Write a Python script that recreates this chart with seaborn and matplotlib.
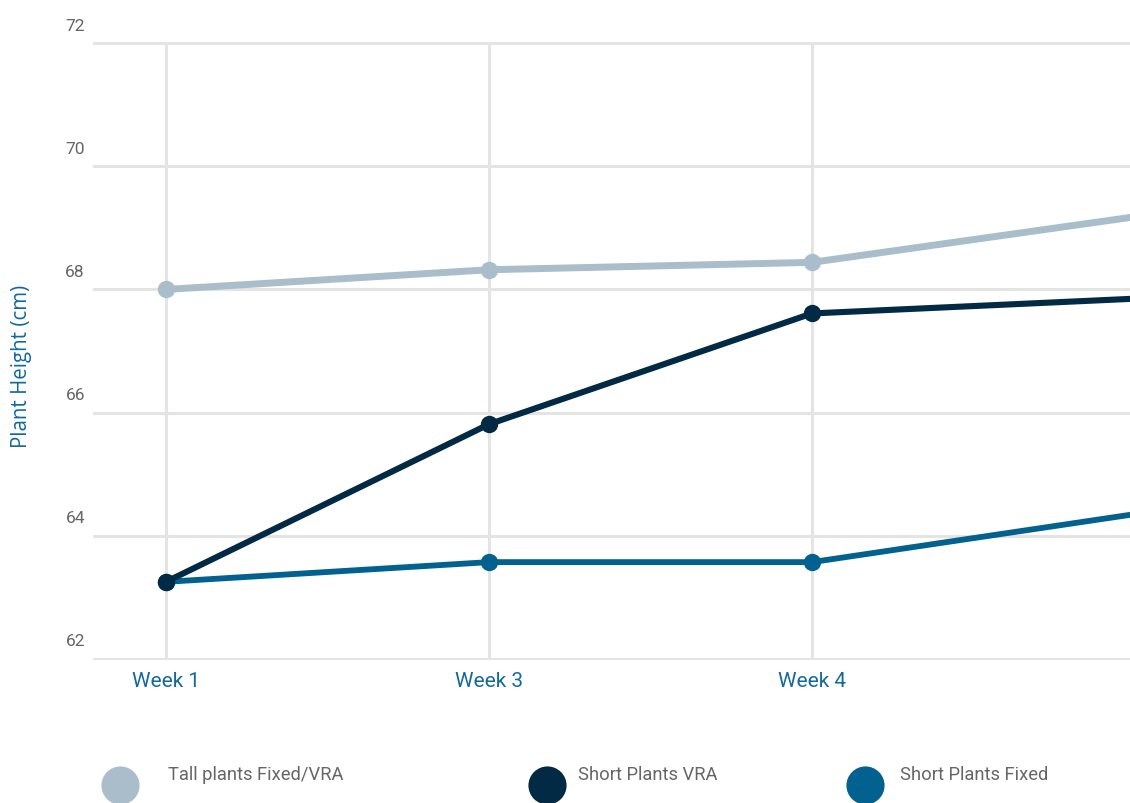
import numpy as np
import pandas as pd
import matplotlib
matplotlib.use("Agg")
import matplotlib.pyplot as plt
import matplotlib.transforms as mtransforms
import seaborn as sns

# ---- data ----
weeks = ["Week 1", "Week 3", "Week 4", "Week 5"]
tall_fixed_vra = [68.0, 68.32, 68.44, 69.18]
short_vra = [63.25, 65.81, 67.61, 67.85]
short_fixed = [63.25, 63.57, 63.57, 64.35]
series_names = ["Tall plants Fixed/VRA", "Short Plants VRA", "Short Plants Fixed"]
series_colors = ["#a9bdca", "#022a44", "#03618f"]
y_ticks = [62, 64, 66, 68, 70, 72]
y_label = "Plant Height (cm)"

df = pd.DataFrame({
    "week": weeks * 3,
    "height": tall_fixed_vra + short_vra + short_fixed,
    "series": [series_names[0]] * 4 + [series_names[1]] * 4 + [series_names[2]] * 4,
})

sns.set_theme(style="white")
plt.rcParams["font.family"] = ["Roboto", "DejaVu Sans"]

W, H = 1130, 804
fig = plt.figure(figsize=(W / 100, H / 100), dpi=100)
ax = fig.add_axes([93 / W, 1 - 661 / H, 1 - 93 / W, (661 - 43) / H])

palette = dict(zip(series_names, series_colors))
widths = {series_names[0]: 5.0, series_names[1]: 4.4, series_names[2]: 4.2}
draw_order = [series_names[0], series_names[2], series_names[1]]
for name in draw_order:
    sub = df[df["series"] == name]
    sns.lineplot(data=sub, x="week", y="height", color=palette[name], ax=ax,
                 linewidth=widths[name], marker="o", markersize=12.5,
                 markeredgecolor=palette[name], markeredgewidth=0, sort=False,
                 legend=False, zorder=3)

for ln in ax.get_lines():
    ln.set_markevery([0, 1, 2])
    ln.set_solid_capstyle("butt")

ax.set_xlim(-0.226, 2.985)
ax.set_ylim(61.98, 72.02)
for s in ax.spines.values():
    s.set_visible(False)

ax.set_yticks(y_ticks)
ax.set_yticklabels([])
ax.tick_params(axis="both", length=0)
ax.set_xticks(range(3))
ax.set_xticklabels(weeks[:3], fontsize=15, color="#12699e")
ax.tick_params(axis="x", pad=8)
ax.grid(True, color="#e4e4e4", linewidth=2.2)
ax.set_axisbelow(True)
ax.set_xlabel("")
ax.set_ylabel("")

# y tick labels above the grid lines
off = mtransforms.ScaledTranslation(0, 18 / 100, fig.dpi_scale_trans)
for v in y_ticks:
    ax.text(-8 / 1037, v, f"{v}", transform=ax.get_yaxis_transform() + off,
            ha="right", va="center", fontsize=12.5, color="#666666", clip_on=False)

fig.text(22 / W, 1 - 366 / H, y_label, rotation=90, ha="center", va="center",
         fontsize=14.8, color="#12699e", family=["Open Sans", "DejaVu Sans"])

# legend
lax = fig.add_axes([0, 0, 1, 1], facecolor="none")
lax.set_xlim(0, W)
lax.set_ylim(H, 0)
lax.axis("off")
circ_x = [120, 547, 865]
text_x = [168, 578, 900]
for name, col, cx, tx in zip(series_names, series_colors, circ_x, text_x):
    lax.scatter([cx], [786], s=840, color=col, edgecolor="white", linewidth=1.5, clip_on=False)
    lax.text(tx, 775, name, ha="left", va="center", fontsize=13.2, color="#666666")

fig.savefig("out.png", dpi=100)
